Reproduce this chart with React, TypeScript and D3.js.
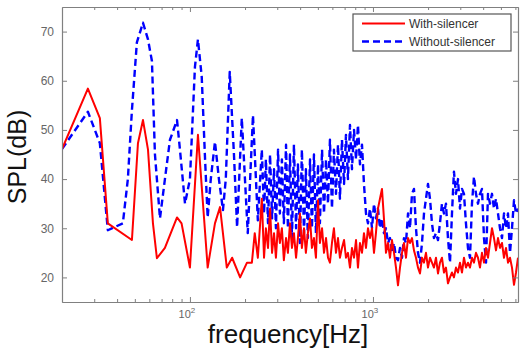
import React, { useEffect, useRef } from "react";
import * as d3 from "d3";

// With-silencer spectrum: frequency (Hz) and level (dB)
const withFreq = [
  20, 27.7, 32.2, 35.6, 48.2, 52, 55.4, 59, 62.8, 66, 73, 85, 90, 100, 110.6, 125, 137, 146, 159, 170, 188, 205,
  218, 226, 235, 247, 254, 260, 267, 274, 281, 288, 295, 303, 310, 318, 326, 335, 343, 352, 361, 370, 380, 389,
  399, 409, 420, 430, 441, 453, 464, 476, 488, 501, 513, 527, 540, 554, 568, 582, 597, 612, 628, 644, 660, 677,
  695, 712, 730, 749, 768, 788, 808, 828, 849, 871, 893, 916, 939, 963, 988, 1013, 1038, 1065, 1092, 1120, 1148,
  1178, 1208, 1239, 1270, 1303, 1336, 1370, 1405, 1441, 1477, 1515, 1554, 1593, 1634, 1675, 1718, 1762, 1807,
  1853, 1900, 1948, 1998, 2049, 2101, 2154, 2209, 2266, 2323, 2382, 2443, 2505, 2569, 2635, 2702, 2770, 2841,
  2914, 2988, 3064, 3142, 3222, 3304, 3389, 3475, 3564, 3654, 3748, 3843, 3941, 4042, 4145, 4250, 4359, 4470,
  4584, 4700, 4821, 4943, 5069, 5198, 5331, 5467, 5606, 5749, 5896, 6046, 6200,
];
const withSpl = [
  46.1, 58.4, 52.4, 31, 27.6, 47.3, 52, 46, 31, 23.9, 26, 32.2, 31, 22, 49, 22, 31, 34.3, 22, 24, 20, 23,
  23, 29, 24, 36, 24, 30, 26, 34, 25, 29, 24, 31, 27, 30, 23.5, 28, 25, 31, 26, 29, 24, 28,
  33, 26, 30, 25, 29, 32, 26, 28, 24, 35.7, 27, 30, 25, 28, 24, 23, 27, 30, 25, 28, 24, 26,
  27.6, 24, 25, 22, 26, 24, 27.6, 22, 27, 25, 29, 26, 30, 28, 30, 25, 29, 34, 36, 38, 32,
  25, 27, 24, 27.6, 25, 22, 18.4, 22, 25, 27, 24, 28, 27, 28, 25.5, 24, 22, 20.8,
  24, 23, 25, 22, 24, 23, 22, 24, 20.8, 23, 24, 21, 22, 18.8, 20, 21, 20, 22,
  21, 23, 21, 24, 22, 23, 22, 24, 23, 25, 24, 22, 25, 23, 26, 24, 27, 30,
  28, 25.5, 28, 26, 27, 24, 26, 23, 24, 22, 18.5, 21, 24,
];

// Without-silencer spectrum: frequency (Hz) and level (dB)
const withoutFreq = [
  20, 27.7, 32.2, 35.6, 43, 45.8, 48.2, 51.3, 55.4, 59, 62, 64.4, 68.6, 73, 77.8, 85, 88.2, 94, 100, 106.5,
  110.6, 116, 121, 125, 130, 137, 144, 151.5, 157, 165, 174, 181, 192, 207, 221, 235,
  247, 254, 260, 267, 274, 281, 288, 295, 303, 310, 318, 326, 335, 343, 352, 361, 370, 380, 389,
  399, 409, 420, 430, 441, 453, 464, 476, 488, 501, 513, 527, 540, 554, 568, 582, 597, 612, 628, 644, 660, 677,
  695, 712, 730, 749, 768, 788, 808, 828, 849, 871, 893, 916, 939, 963, 988, 1013, 1038, 1065, 1092, 1120, 1148,
  1178, 1208, 1239, 1270, 1303, 1336, 1370, 1405, 1441, 1477, 1515, 1554, 1593, 1634, 1675, 1718, 1762, 1807,
  1853, 1900, 1948, 1998, 2049, 2101, 2154, 2209, 2266, 2323, 2382, 2443, 2505, 2569, 2635, 2702, 2770, 2841,
  2914, 2988, 3064, 3142, 3222, 3304, 3389, 3475, 3564, 3654, 3748, 3843, 3941, 4042, 4145, 4250, 4359, 4470,
  4584, 4700, 4821, 4943, 5069, 5198, 5331, 5467, 5606, 5749, 5896, 6046, 6200,
];
const withoutSpl = [
  46.1, 53.7, 47.3, 29.6, 31, 40, 54, 67.8, 71.8, 68.4, 64, 45, 32, 40, 48, 52, 46, 35, 40, 62.8,
  68.4, 60.8, 43.9, 32.2, 40, 47.6, 40, 33.7, 40, 61.8, 45, 30.2, 52.4, 29, 53, 31.6,
  46, 33, 44, 31, 45, 32, 42, 30, 46, 33, 44, 31, 47, 30, 45, 28, 47, 30, 43,
  27, 46, 29, 42, 28, 44, 30, 45, 29, 43, 31, 46, 33, 44, 35, 48, 34, 46, 37, 47, 36, 48,
  39, 49, 40, 51, 42, 50, 44, 51, 43, 47, 39, 33, 31, 34, 30, 35, 32, 34, 30, 32, 29,
  30, 27, 28, 25, 27, 24, 23.5, 26, 24, 28, 27, 33, 30, 37, 38, 30, 25, 23,
  27, 33, 36, 39, 36, 31, 28, 29, 27.6, 31, 35, 33, 35, 28, 23, 33, 41.5, 37,
  40, 34, 38, 37, 31, 26, 24, 35, 40.5, 37, 35, 37, 38, 28, 23, 37, 35, 37,
  34, 36, 33, 30, 28, 33, 30, 33, 25, 30, 35.7, 33, 34,
];

// Axis ticks and legend text
const yTicks = [20, 30, 40, 50, 60, 70];
const xMajorTicks = [100, 1000];
const xMinorTicks = [30, 40, 50, 60, 70, 80, 90, 200, 300, 400, 500, 600, 700, 800, 900, 2000, 3000, 4000, 5000, 6000];
const legendLabels = ["With-silencer", "Without-silencer"];

const App = () => {
  // Reference to the chart svg
  const chartRef = useRef<SVGSVGElement>(null);

  useEffect(() => {
    const svg = d3.select(chartRef.current);
    svg.selectAll("*").remove();

    // Plot area
    const margin = { top: 7, right: 2, bottom: 48, left: 62 };
    const width = 520 - margin.left - margin.right;
    const height = 350 - margin.top - margin.bottom;
    const font = "Arial, 'Liberation Sans', sans-serif";
    const axisColor = "#808080";

    const g = svg.append("g").attr("transform", `translate(${margin.left},${margin.top})`);

    // Scales
    const x = d3.scaleLog().domain([20, 6200]).range([0, width]);
    const y = d3.scaleLinear().domain([15, 75]).range([height, 0]);

    // Clip the curves to the box
    svg
      .append("defs")
      .append("clipPath")
      .attr("id", "plot-clip")
      .append("rect")
      .attr("width", width)
      .attr("height", height);

    const line = d3
      .line<[number, number]>()
      .x((d) => x(d[0]))
      .y((d) => y(d[1]));

    const withoutData = withoutFreq.map((f, i) => [f, withoutSpl[i]] as [number, number]);
    const withData = withFreq.map((f, i) => [f, withSpl[i]] as [number, number]);

    const curves = g.append("g").attr("clip-path", "url(#plot-clip)");

    // Without-silencer (blue dashed)
    curves
      .append("path")
      .datum(withoutData)
      .attr("fill", "none")
      .attr("stroke", "#0000ff")
      .attr("stroke-width", 2.4)
      .attr("stroke-dasharray", "7,4")
      .attr("stroke-linejoin", "round")
      .attr("d", line);

    // With-silencer (red solid)
    curves
      .append("path")
      .datum(withData)
      .attr("fill", "none")
      .attr("stroke", "#ff0000")
      .attr("stroke-width", 2)
      .attr("stroke-linejoin", "round")
      .attr("d", line);

    // Axes with inward ticks on all four sides
    const styleAxis = (sel: any) => {
      sel.select(".domain").attr("stroke", axisColor).attr("stroke-width", 1.2);
      sel.selectAll(".tick line").attr("stroke", axisColor);
      sel.selectAll(".tick text").attr("fill", "#666").style("font-family", font).style("font-size", "12px");
    };

    g.append("g")
      .attr("transform", `translate(0,${height})`)
      .call(d3.axisBottom(x).tickValues(xMinorTicks).tickSize(-3).tickSizeOuter(0).tickFormat(() => ""))
      .call(styleAxis);
    const bottomMajor = g
      .append("g")
      .attr("transform", `translate(0,${height})`)
      .call(d3.axisBottom(x).tickValues(xMajorTicks).tickSize(-5).tickSizeOuter(0).tickFormat(() => ""))
      .call(styleAxis);

    g.append("g")
      .call(d3.axisTop(x).tickValues(xMinorTicks).tickSize(-3).tickSizeOuter(0).tickFormat(() => ""))
      .call(styleAxis);
    g.append("g")
      .call(d3.axisTop(x).tickValues(xMajorTicks).tickSize(-5).tickSizeOuter(0).tickFormat(() => ""))
      .call(styleAxis);

    g.append("g")
      .call(d3.axisLeft(y).tickValues(yTicks).tickSize(-5).tickSizeOuter(0).tickPadding(8))
      .call(styleAxis);
    g.append("g")
      .attr("transform", `translate(${width},0)`)
      .call(d3.axisRight(y).tickValues(yTicks).tickSize(-5).tickSizeOuter(0).tickFormat(() => ""))
      .call(styleAxis);

    // 10^n labels under the major ticks
    xMajorTicks.forEach((v) => {
      const t = bottomMajor
        .append("text")
        .attr("x", x(v) - 3)
        .attr("y", 16)
        .attr("text-anchor", "middle")
        .attr("fill", "#666")
        .style("font-family", font)
        .style("font-size", "11px")
        .text("10");
      t.append("tspan")
        .attr("dy", -5)
        .style("font-size", "8px")
        .text(String(Math.round(Math.log10(v))));
    });

    // Axis titles
    svg
      .append("text")
      .attr("x", margin.left + width / 2 - 2)
      .attr("y", 343)
      .attr("text-anchor", "middle")
      .attr("fill", "#111")
      .style("font-family", font)
      .style("font-size", "26px")
      .text("frequency[Hz]");

    svg
      .append("text")
      .attr("transform", "translate(26,157) rotate(-90)")
      .attr("text-anchor", "middle")
      .attr("fill", "#111")
      .style("font-family", font)
      .style("font-size", "25px")
      .text("SPL(dB)");

    // Legend
    const legend = svg.append("g").attr("transform", "translate(353,14)");
    legend
      .append("rect")
      .attr("width", 158)
      .attr("height", 37)
      .attr("fill", "white")
      .attr("stroke", "#555")
      .attr("stroke-width", 1.2);

    const legendStyles = [
      { color: "#ff0000", dash: "none", width: 2 },
      { color: "#0000ff", dash: "7,4", width: 2.4 },
    ];
    legendLabels.forEach((label, i) => {
      const ly = 9.5 + i * 18;
      legend
        .append("line")
        .attr("x1", 9)
        .attr("x2", 52)
        .attr("y1", ly)
        .attr("y2", ly)
        .attr("stroke", legendStyles[i].color)
        .attr("stroke-width", legendStyles[i].width)
        .attr("stroke-dasharray", legendStyles[i].dash);
      legend
        .append("text")
        .attr("x", 56)
        .attr("y", ly + 4.5)
        .attr("fill", "#333")
        .style("font-family", font)
        .style("font-size", "12px")
        .text(label);
    });

    return () => {
      svg.selectAll("*").remove();
    };
  }, []);

  return (
    <svg
      ref={chartRef}
      width={520}
      height={350}
      style={{ position: "absolute", left: 0, top: 0, background: "white" }}
    ></svg>
  );
};

export default App;
